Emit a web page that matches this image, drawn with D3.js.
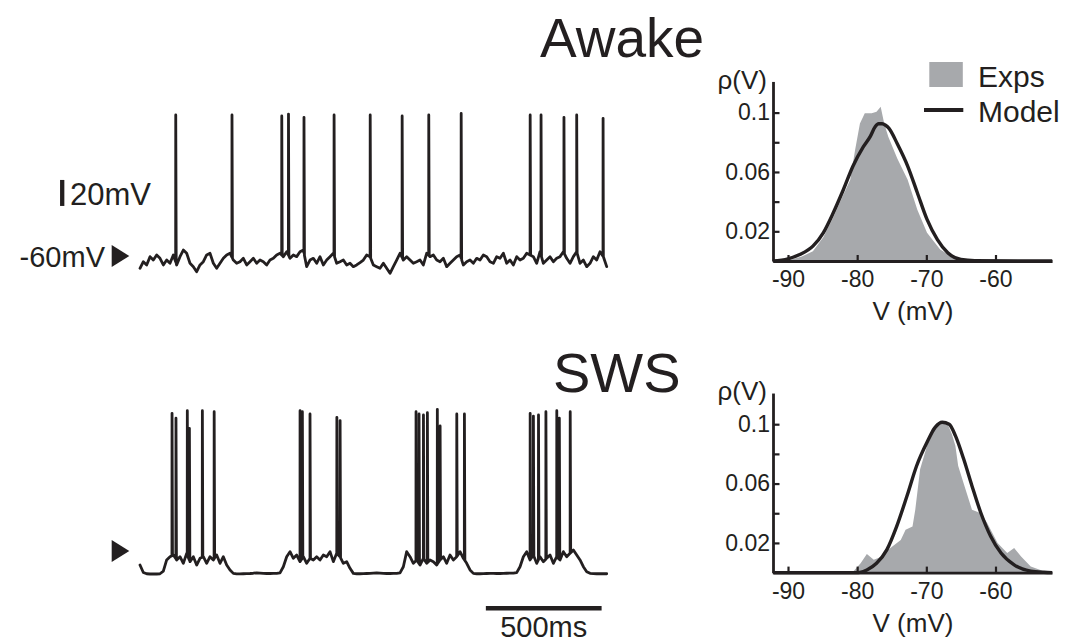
<!DOCTYPE html>
<html>
<head>
<meta charset="utf-8">
<script src="https://cdn.jsdelivr.net/npm/d3@7"></script>
<style>
  html, body { margin: 0; padding: 0; background: #ffffff; }
  svg { display: block; }
</style>
</head>
<body>
<div id="chart"></div>
<script>
// ---------------- DATA ----------------
// Sampling step of the membrane-potential traces (ms)
const sampleStepMs = 14.4;

// Awake: subthreshold membrane potential (mV), one value per sample
const awakeVm = [
  -69.5,-64.4,-66.9,-60.5,-63.1,-59.2,-61.8,-66.9,-63.1,-65.6,
  -59.2,-66.9,-60.5,-55.4,-57.9,-65.6,-68.2,-72.1,-66.9,-64.4,
  -59.2,-57.9,-65.6,-69.5,-65.6,-61.8,-59.2,-57.9,-63.1,-65.6,
  -64.4,-61.8,-66.9,-64.4,-61.8,-65.6,-63.1,-64.4,-66.9,-63.1,
  -61.8,-59.2,-57.9,-60.5,-56.7,-61.8,-59.2,-60.5,-56.7,-55.4,
  -68.2,-63.1,-61.8,-65.6,-60.5,-66.9,-63.1,-60.5,-57.9,-65.6,
  -64.4,-63.1,-66.9,-65.6,-68.2,-66.9,-65.1,-63.1,-59.2,-60.5,
  -66.9,-68.2,-69.5,-65.6,-69.5,-73.3,-68.2,-63.1,-57.9,-63.1,
  -60.5,-63.1,-65.6,-64.4,-63.1,-66.9,-57.9,-60.5,-59.2,-63.1,
  -64.4,-61.8,-68.2,-65.6,-63.1,-60.5,-59.2,-66.9,-64.4,-63.1,
  -65.6,-61.8,-63.1,-59.2,-60.5,-64.4,-65.6,-60.5,-61.8,-57.9,
  -65.6,-63.1,-66.9,-60.5,-63.1,-61.8,-57.9,-59.2,-60.5,-65.6,
  -56.7,-65.6,-63.1,-60.5,-64.4,-61.8,-60.5,-56.7,-61.8,-65.6,
  -60.5,-56.7,-65.6,-63.1,-68.2,-65.6,-60.5,-63.1,-56.7,-60.5,
  -68.2
];
// Awake spikes: times (ms) and peak potentials (mV)
const awakeSpikeTimes = [154, 397, 612, 641, 708, 838, 994, 1132, 1247, 1387, 1685, 1732, 1831, 1886, 2000];
const awakeSpikePeaks = [48.5, 48.5, 47.7, 49.2, 46.7, 48.5, 48.5, 47.7, 48.5, 49.7, 48.5, 48.5, 46.7, 48.5, 45.9];

// SWS: subthreshold membrane potential (mV)
const swsVm = [
  -70.8,-76.5,-77.5,-77.7,-77.7,-77.7,-77.5,-75.5,-66.9,-64.4,
  -63.1,-66.9,-64.4,-69.5,-61.8,-68.2,-64.4,-70.8,-65.6,-64.4,
  -69.5,-64.4,-66.9,-63.1,-69.5,-64.4,-70.8,-74.6,-77.2,-77.6,
  -77.6,-77.5,-77.4,-77.3,-77.1,-76.8,-77.0,-77.2,-77.3,-77.3,
  -77.2,-77.2,-76.8,-72.1,-64.4,-60.5,-65.6,-63.1,-68.2,-64.4,
  -69.5,-65.6,-66.9,-64.4,-66.9,-63.1,-64.4,-60.5,-68.2,-61.8,
  -64.4,-69.5,-68.2,-73.3,-77.2,-77.5,-77.5,-77.4,-77.3,-77.2,
  -77.0,-76.8,-77.0,-77.2,-77.3,-77.3,-77.2,-77.2,-76.8,-72.1,
  -60.5,-64.4,-69.5,-66.9,-70.8,-65.6,-69.5,-66.9,-68.2,-70.8,
  -66.9,-64.4,-69.5,-63.1,-66.9,-64.4,-60.5,-65.6,-69.5,-74.6,
  -77.2,-77.5,-77.5,-77.4,-77.3,-77.2,-77.2,-77.3,-77.3,-77.2,
  -77.1,-77.0,-77.0,-76.6,-72.1,-64.4,-60.5,-66.9,-63.1,-69.5,
  -64.4,-68.2,-65.6,-63.1,-69.5,-64.4,-66.9,-60.5,-64.4,-61.8,
  -59.2,-63.1,-66.9,-72.1,-75.9,-77.2,-77.4,-77.5,-77.5,-77.5,
  -77.5
];
const swsSpikeTimes = [138, 155, 204, 213, 269, 320, 691, 701, 734, 850, 864,
  1192, 1205, 1224, 1241, 1284, 1296, 1368, 1401,
  1685, 1699, 1721, 1753, 1800, 1811, 1858];
const swsSpikePeaks = [45.9, 42.1, 47.9, 34.4, 47.9, 47.1, 47.9, 47.1, 45.4, 42.8, 40.3,
  47.1, 45.4, 44.6, 46.4, 49.0, 36.2, 45.4, 45.4,
  45.9, 43.8, 44.6, 47.2, 47.9, 42.1, 47.2];

// Histograms: V (mV) and probability density
const awakeExpV = [-92.2,-89.5,-88.0,-86.4,-84.9,-83.5,-82.0,-81.0,-80.3,-79.6,-78.9,-77.9,-77.2,-76.6,-76.1,-75.5,-74.2,-72.7,-71.3,-69.9,-68.0,-66.0,-64.0,-60.0,-51.8];
const awakeExpP = [0,0.001,0.003,0.0066,0.016,0.029,0.0446,0.0547,0.0748,0.0927,0.0995,0.0995,0.1005,0.104,0.0928,0.0838,0.069,0.0547,0.0346,0.019,0.0077,0.0021,0.0005,0,0];
const awakeModelV = [-92.2,-90.0,-88.3,-86.4,-84.9,-83.5,-82.0,-80.6,-79.1,-78.1,-77.4,-76.9,-76.4,-75.9,-75.4,-74.2,-72.7,-71.3,-69.9,-68.4,-66.9,-65.0,-63.0,-51.8];
const awakeModelP = [0,0.0015,0.0044,0.010,0.019,0.032,0.048,0.064,0.077,0.084,0.0905,0.0925,0.0925,0.0915,0.0894,0.079,0.064,0.046,0.028,0.0144,0.0055,0.001,0.0002,0];

const swsExpV = [-92.2,-81.0,-80.5,-79.5,-78.6,-77.6,-76.4,-75.2,-73.7,-73.0,-72.0,-71.6,-70.9,-69.9,-69.2,-68.0,-67.0,-66.3,-65.8,-65.4,-64.6,-63.4,-62.1,-61.2,-59.7,-58.3,-57.3,-56.3,-54.9,-52.9,-51.8];
const swsExpP = [0,0,0.001,0.0063,0.0126,0.0086,0.0108,0.0165,0.022,0.0288,0.031,0.0424,0.0697,0.0855,0.097,0.100,0.101,0.0933,0.0855,0.072,0.060,0.0424,0.040,0.0335,0.020,0.0132,0.0166,0.0108,0.0041,0.0007,0];
const swsModelV = [-92.2,-80.0,-79.6,-78.6,-77.2,-75.7,-74.3,-72.8,-71.4,-69.9,-68.7,-67.7,-66.7,-65.8,-64.6,-63.4,-62.1,-60.7,-59.2,-57.3,-54.9,-53.0,-51.8];
const swsModelP = [0,0,0.0002,0.0018,0.0063,0.0155,0.031,0.0516,0.072,0.0878,0.098,0.1013,0.100,0.0923,0.0765,0.0584,0.040,0.0245,0.0132,0.0052,0.001,0.0002,0];

// Axis ticks and labels
const histXTicks = [-90, -80, -70, -60];
const histYTicks = [0.02, 0.04, 0.06, 0.08, 0.1];
const histYLabelled = [0.02, 0.06, 0.1];
const panelTitles = ["Awake", "SWS"];
const legendLabels = ["Exps", "Model"];
const restingLabel = "-60mV";
const restingVm = -60;
const voltBarMv = 20;
const voltBarLabel = "20mV";
const timeBarMs = 500;
const timeBarLabel = "500ms";
const histXLabel = "V (mV)";
const histYLabel = "ρ(V)";

// ---------------- DRAWING ----------------
const W = 1067, H = 644;
const INK = "#231f20";
const GRAY = "#a7a9ac";
const FONT = "'Liberation Sans', Arial, Helvetica, sans-serif";

const svg = d3.select("#chart").append("svg")
  .attr("width", W).attr("height", H)
  .attr("font-family", FONT);
svg.append("rect").attr("width", W).attr("height", H).attr("fill", "#fff");

const totalMs = (awakeVm.length - 1) * sampleStepMs;
const tScale = d3.scaleLinear().domain([0, totalMs]).range([140, 606.7]);
const pxPerMv = 1.3;
const yAwake = d3.scaleLinear().domain([-60, 0]).range([256, 256 - 60 * pxPerMv]);
const ySws = d3.scaleLinear().domain([-60, 0]).range([551, 551 - 60 * pxPerMv]);

function buildTrace(vals, spT, spV) {
  const pts = vals.map((v, i) => [i * sampleStepMs, v]);
  const interp = t => {
    const f = t / sampleStepMs;
    const i = Math.min(Math.floor(f), vals.length - 2);
    const r = f - i;
    return vals[i] * (1 - r) + vals[i + 1] * r;
  };
  spT.forEach((t, k) => {
    pts.push([t - 0.01, interp(Math.max(0, t - 0.01))]);
    pts.push([t + 0.4, spV[k]]);
    const td = Math.min(t + 2.4, totalMs);
    pts.push([td, interp(td)]);
  });
  pts.sort((a, b) => a[0] - b[0]);
  return pts;
}

function drawTrace(vals, spT, spV, yS) {
  const line = d3.line().x(d => tScale(d[0])).y(d => yS(d[1]));
  svg.append("path")
    .datum(buildTrace(vals, spT, spV))
    .attr("d", line)
    .attr("fill", "none")
    .attr("stroke", INK)
    .attr("stroke-width", 2.8)
    .attr("stroke-linejoin", "round")
    .attr("stroke-linecap", "round");
}
drawTrace(awakeVm, awakeSpikeTimes, awakeSpikePeaks, yAwake);
drawTrace(swsVm, swsSpikeTimes, swsSpikePeaks, ySws);

// resting-level arrows
function arrow(yS) {
  const yc = yS(restingVm);
  svg.append("path")
    .attr("d", `M111.7,${yc - 11}L129.3,${yc}L111.7,${yc + 11}Z`)
    .attr("fill", INK);
}
arrow(yAwake);
arrow(ySws);
svg.append("text").attr("x", 105).attr("y", yAwake(restingVm) + 10.7)
  .attr("text-anchor", "end").attr("font-size", 29).attr("fill", INK)
  .text(restingLabel);

// 20 mV scale bar
const barBottomMv = -21.5;
svg.append("line")
  .attr("x1", 62.2).attr("x2", 62.2)
  .attr("y1", yAwake(barBottomMv)).attr("y2", yAwake(barBottomMv + voltBarMv))
  .attr("stroke", INK).attr("stroke-width", 4.3);
svg.append("text").attr("x", 70).attr("y", 205)
  .attr("font-size", 31).attr("fill", INK).text(voltBarLabel);

// 500 ms scale bar
const tb0 = 1494;
svg.append("line")
  .attr("x1", tScale(tb0)).attr("x2", tScale(tb0 + timeBarMs))
  .attr("y1", 608.3).attr("y2", 608.3)
  .attr("stroke", INK).attr("stroke-width", 4.6);
svg.append("text").attr("x", (tScale(tb0) + tScale(tb0 + timeBarMs)) / 2).attr("y", 637)
  .attr("text-anchor", "middle").attr("font-size", 29).attr("fill", INK).text(timeBarLabel);

// titles
svg.append("text").attr("x", 540).attr("y", 57).attr("font-size", 55).attr("fill", INK).text(panelTitles[0]);
svg.append("text").attr("x", 553).attr("y", 392).attr("font-size", 56).attr("fill", INK).text(panelTitles[1]);

// ---------------- HISTOGRAMS ----------------
const hx = d3.scaleLinear().domain([-92.17, -51.83]).range([773, 1052]);

function drawHist(zeroY, expV, expP, modV, modP) {
  const pxPer01 = 148.4;
  const yTop = 0.121;
  const hy = d3.scaleLinear().domain([0, 0.1]).range([zeroY, zeroY - pxPer01]);
  const g = svg.append("g");

  const expData = expV.map((v, i) => [v, expP[i]]);
  g.append("path").datum(expData)
    .attr("d", d3.area().x(d => hx(d[0])).y0(hy(0)).y1(d => hy(d[1])))
    .attr("fill", GRAY);

  const modData = modV.map((v, i) => [v, modP[i]]);
  g.append("path").datum(modData)
    .attr("d", d3.line().x(d => hx(d[0])).y(d => hy(d[1])).curve(d3.curveMonotoneX))
    .attr("fill", "none").attr("stroke", INK).attr("stroke-width", 3.4)
    .attr("stroke-linejoin", "round");

  // x axis
  const xAx = g.append("g").attr("transform", `translate(0,${hy(0)})`)
    .call(d3.axisBottom(hx).tickValues(histXTicks).tickSizeInner(-6).tickSizeOuter(0).tickPadding(10)
      .tickFormat(d => d));
  // y axis
  const hyAxis = d3.scaleLinear().domain([0, yTop]).range([hy(0), hy(yTop)]);
  const yAx = g.append("g").attr("transform", `translate(${hx.range()[0]},0)`)
    .call(d3.axisLeft(hyAxis).tickValues(histYTicks).tickSizeInner(-6.5).tickSizeOuter(0).tickPadding(3)
      .tickFormat(d => histYLabelled.some(v => Math.abs(v - d) < 1e-9) ? d3.format("~g")(d) : ""));
  [xAx, yAx].forEach(a => {
    a.select(".domain").attr("stroke", INK).attr("stroke-width", 2.8);
    a.selectAll(".tick line").attr("stroke", INK).attr("stroke-width", 2.2);
    a.selectAll(".tick text").attr("fill", INK).attr("font-size", 23).attr("font-family", FONT);
  });

  // labels
  g.append("text").attr("x", 913).attr("y", zeroY + 59).attr("text-anchor", "middle")
    .attr("font-size", 26).attr("fill", INK).text(histXLabel);
  g.append("text").attr("x", 767).attr("y", zeroY - 172.5).attr("text-anchor", "end")
    .attr("font-size", 26).attr("fill", INK).text(histYLabel);
}
drawHist(261, awakeExpV, awakeExpP, awakeModelV, awakeModelP);
drawHist(572.6, swsExpV, swsExpP, swsModelV, swsModelP);

// legend
svg.append("rect").attr("x", 929.3).attr("y", 62).attr("width", 33.5).attr("height", 25).attr("fill", GRAY);
svg.append("line").attr("x1", 924).attr("x2", 963.3).attr("y1", 110).attr("y2", 110)
  .attr("stroke", INK).attr("stroke-width", 4);
svg.append("text").attr("x", 978).attr("y", 86.7).attr("font-size", 30).attr("fill", INK).text(legendLabels[0]);
svg.append("text").attr("x", 978).attr("y", 121.7).attr("font-size", 30).attr("fill", INK).text(legendLabels[1]);
</script>
</body>
</html>
